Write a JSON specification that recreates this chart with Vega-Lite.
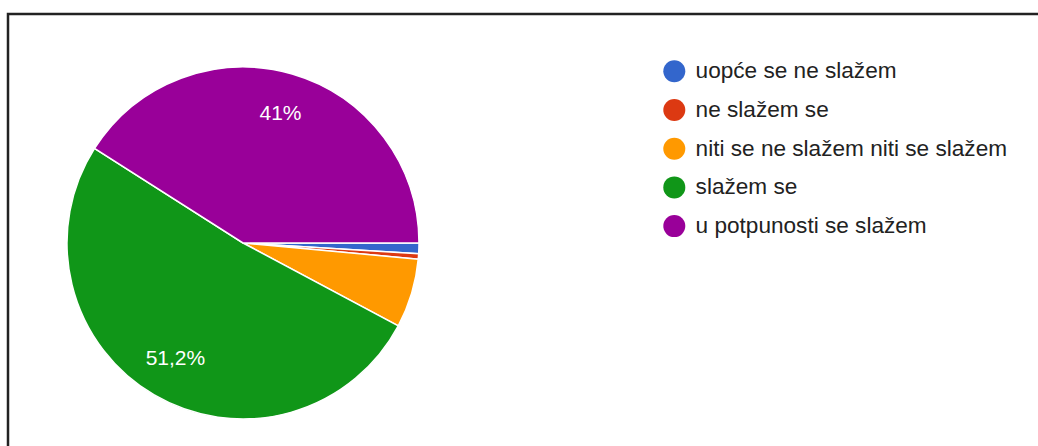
{
  "$schema": "https://vega.github.io/schema/vega-lite/v6.json",
  "width": 1100,
  "height": 500,
  "autosize": "none",
  "padding": {"left": 8, "top": 14, "right": 0, "bottom": 0},
  "background": "white",
  "view": {"stroke": "#222222", "strokeWidth": 2.5},
  "config": {
    "view": {"stroke": "#222222", "strokeWidth": 2.5},
    "font": "Liberation Sans"
  },
  "data": {
    "values": [
      {"idx": 1, "odgovor": "uopće se ne slažem", "count": 2, "label": "1%"},
      {"idx": 2, "odgovor": "ne slažem se", "count": 1, "label": "0,5%"},
      {"idx": 3, "odgovor": "niti se ne slažem niti se slažem", "count": 13, "label": "6,3%"},
      {"idx": 4, "odgovor": "slažem se", "count": 105, "label": "51,2%"},
      {"idx": 5, "odgovor": "u potpunosti se slažem", "count": 84, "label": "41%"}
    ]
  },
  "encoding": {
    "theta": {"field": "count", "type": "quantitative", "stack": true, "scale": {"range": [1.5708, 7.854]}},
    "order": {"field": "idx", "type": "ordinal"}
  },
  "layer": [
    {
      "mark": {"type": "arc", "x": 235, "y": 229, "outerRadius": 176, "stroke": "white", "strokeWidth": 1.5},
      "encoding": {
        "color": {
          "field": "odgovor",
          "type": "nominal",
          "sort": null,
          "scale": {
            "domain": ["uopće se ne slažem", "ne slažem se", "niti se ne slažem niti se slažem", "slažem se", "u potpunosti se slažem"],
            "range": ["#3366cc", "#dc3912", "#ff9900", "#109618", "#990099"]
          },
          "legend": {
            "title": null,
            "orient": "none",
            "legendX": 655,
            "legendY": 46,
            "padding": 0,
            "symbolType": "circle",
            "symbolSize": 484,
            "symbolStrokeWidth": 0,
            "labelFontSize": 22.6,
            "labelColor": "#222222",
            "labelOffset": 10,
            "rowPadding": 15.7,
            "labelLimit": 500
          }
        }
      }
    },
    {
      "mark": {"type": "text", "x": 235, "y": 229, "radius": 134, "fontSize": 21, "color": "white", "baseline": "middle", "align": "center"},
      "encoding": {
        "text": {"condition": {"test": "datum.count > 50", "field": "label"}, "value": ""}
      }
    }
  ]
}
